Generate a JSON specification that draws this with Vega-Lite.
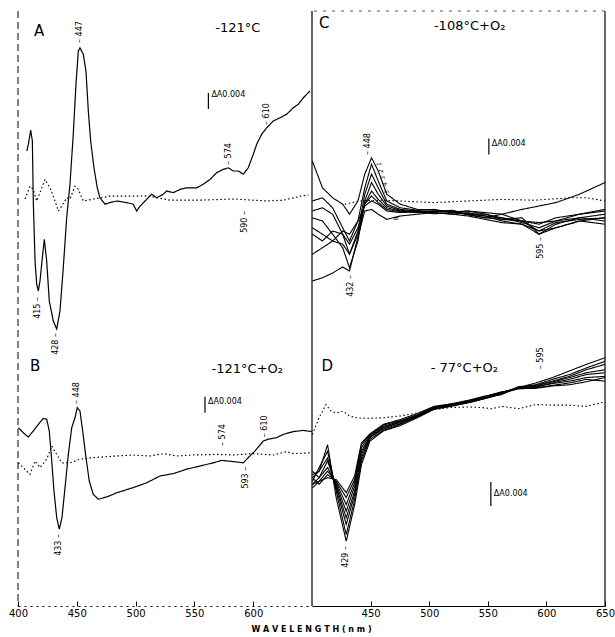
{
  "$schema": "https://vega.github.io/schema/vega-lite/v6.json",
  "padding": {"left": 8, "top": 10, "right": 2, "bottom": 0},
  "background": "white",
  "bounds": "flush",
  "spacing": 0,
  "columns": 2,
  "title": {"text": "W A V E L E N G T H   ( n m )", "orient": "bottom", "anchor": "middle", "fontSize": 8, "font": "DejaVu Sans", "fontWeight": "bold", "offset": 8, "color": "black"},
  "config": {"view": {"stroke": null}, "text": {"font": "DejaVu Sans", "color": "black"}},
  "datasets": {
    "curves": [
      {"p":"A","s":"As","t":"solid","nm":407.5,"v":12},{"p":"A","s":"As","t":"solid","nm":408.8,"v":13.7},{"p":"A","s":"As","t":"solid","nm":410.8,"v":17.2},{"p":"A","s":"As","t":"solid","nm":412.2,"v":14.5},{"p":"A","s":"As","t":"solid","nm":413,"v":-0.5},{"p":"A","s":"As","t":"solid","nm":414.5,"v":-15.5},{"p":"A","s":"As","t":"solid","nm":415.9,"v":-21.3},{"p":"A","s":"As","t":"solid","nm":417.3,"v":-23},{"p":"A","s":"As","t":"solid","nm":418.7,"v":-20.5},{"p":"A","s":"As","t":"solid","nm":421,"v":-13.8},{"p":"A","s":"As","t":"solid","nm":422.4,"v":-10.1},{"p":"A","s":"As","t":"solid","nm":424.4,"v":-15.5},{"p":"A","s":"As","t":"solid","nm":426.6,"v":-25.5},{"p":"A","s":"As","t":"solid","nm":430,"v":-30.5},{"p":"A","s":"As","t":"solid","nm":432.9,"v":-32.5},{"p":"A","s":"As","t":"solid","nm":435.7,"v":-28},{"p":"A","s":"As","t":"solid","nm":438.5,"v":-17.2},{"p":"A","s":"As","t":"solid","nm":441.4,"v":-4.7},{"p":"A","s":"As","t":"solid","nm":444.2,"v":3.7},{"p":"A","s":"As","t":"solid","nm":447,"v":16.2},{"p":"A","s":"As","t":"solid","nm":449.3,"v":28.7},{"p":"A","s":"As","t":"solid","nm":451.3,"v":37},{"p":"A","s":"As","t":"solid","nm":452.7,"v":37.8},{"p":"A","s":"As","t":"solid","nm":455.5,"v":36.2},{"p":"A","s":"As","t":"solid","nm":457.8,"v":32},{"p":"A","s":"As","t":"solid","nm":459.8,"v":22},{"p":"A","s":"As","t":"solid","nm":461.8,"v":14.5},{"p":"A","s":"As","t":"solid","nm":464.6,"v":7.8},{"p":"A","s":"As","t":"solid","nm":467.4,"v":2.8},{"p":"A","s":"As","t":"solid","nm":469.7,"v":0.3},{"p":"A","s":"As","t":"solid","nm":474,"v":-1.3},{"p":"A","s":"As","t":"solid","nm":478.2,"v":-0.9},{"p":"A","s":"As","t":"solid","nm":483.9,"v":-0.5},{"p":"A","s":"As","t":"solid","nm":492.4,"v":-0.9},{"p":"A","s":"As","t":"solid","nm":498,"v":-1.3},{"p":"A","s":"As","t":"solid","nm":500.9,"v":-3},{"p":"A","s":"As","t":"solid","nm":503.7,"v":-1.8},{"p":"A","s":"As","t":"solid","nm":509.4,"v":-0.1},{"p":"A","s":"As","t":"solid","nm":513.7,"v":1.2},{"p":"A","s":"As","t":"solid","nm":517.9,"v":0.3},{"p":"A","s":"As","t":"solid","nm":523.6,"v":1.2},{"p":"A","s":"As","t":"solid","nm":526.4,"v":2},{"p":"A","s":"As","t":"solid","nm":532.1,"v":1.6},{"p":"A","s":"As","t":"solid","nm":537.8,"v":2.4},{"p":"A","s":"As","t":"solid","nm":543.4,"v":2.8},{"p":"A","s":"As","t":"solid","nm":551.9,"v":2.8},{"p":"A","s":"As","t":"solid","nm":557.6,"v":3.7},{"p":"A","s":"As","t":"solid","nm":563.3,"v":4.9},{"p":"A","s":"As","t":"solid","nm":569,"v":6.6},{"p":"A","s":"As","t":"solid","nm":574.6,"v":7.4},{"p":"A","s":"As","t":"solid","nm":578.9,"v":7.8},{"p":"A","s":"As","t":"solid","nm":583.1,"v":7},{"p":"A","s":"As","t":"solid","nm":587.3,"v":7},{"p":"A","s":"As","t":"solid","nm":591.6,"v":6.2},{"p":"A","s":"As","t":"solid","nm":595.8,"v":7.8},{"p":"A","s":"As","t":"solid","nm":600.1,"v":11.2},{"p":"A","s":"As","t":"solid","nm":603,"v":13.7},{"p":"A","s":"As","t":"solid","nm":607.2,"v":16.2},{"p":"A","s":"As","t":"solid","nm":611.5,"v":17.8},{"p":"A","s":"As","t":"solid","nm":617.1,"v":19.5},{"p":"A","s":"As","t":"solid","nm":622.8,"v":20.3},{"p":"A","s":"As","t":"solid","nm":628.5,"v":21.2},{"p":"A","s":"As","t":"solid","nm":634.1,"v":22.8},{"p":"A","s":"As","t":"solid","nm":638.4,"v":23.7},{"p":"A","s":"As","t":"solid","nm":642.6,"v":25.3},{"p":"A","s":"As","t":"solid","nm":648.3,"v":27},
      {"p":"A","s":"Ad","t":"dotted","nm":406,"v":0},{"p":"A","s":"Ad","t":"dotted","nm":410.2,"v":3.2},{"p":"A","s":"Ad","t":"dotted","nm":413,"v":2.4},{"p":"A","s":"Ad","t":"dotted","nm":415.9,"v":-0.5},{"p":"A","s":"Ad","t":"dotted","nm":418.7,"v":1.6},{"p":"A","s":"Ad","t":"dotted","nm":423,"v":4.9},{"p":"A","s":"Ad","t":"dotted","nm":427.2,"v":2.8},{"p":"A","s":"Ad","t":"dotted","nm":431.5,"v":-0.5},{"p":"A","s":"Ad","t":"dotted","nm":434.3,"v":-3},{"p":"A","s":"Ad","t":"dotted","nm":437.1,"v":-1.8},{"p":"A","s":"Ad","t":"dotted","nm":441.4,"v":0.3},{"p":"A","s":"Ad","t":"dotted","nm":444.2,"v":0},{"p":"A","s":"Ad","t":"dotted","nm":448.5,"v":3.2},{"p":"A","s":"Ad","t":"dotted","nm":451.3,"v":2.4},{"p":"A","s":"Ad","t":"dotted","nm":455.5,"v":-0.5},{"p":"A","s":"Ad","t":"dotted","nm":464,"v":0},{"p":"A","s":"Ad","t":"dotted","nm":478.2,"v":0.7},{"p":"A","s":"Ad","t":"dotted","nm":498,"v":0.7},{"p":"A","s":"Ad","t":"dotted","nm":509.4,"v":0.8},{"p":"A","s":"Ad","t":"dotted","nm":529.3,"v":-0.3},{"p":"A","s":"Ad","t":"dotted","nm":554.2,"v":-0.3},{"p":"A","s":"Ad","t":"dotted","nm":583.1,"v":0},{"p":"A","s":"Ad","t":"dotted","nm":611.5,"v":-0.5},{"p":"A","s":"Ad","t":"dotted","nm":625.7,"v":-0.3},{"p":"A","s":"Ad","t":"dotted","nm":639.9,"v":0.7},{"p":"A","s":"Ad","t":"dotted","nm":646.9,"v":1},
      {"p":"B","s":"Bs","t":"solid","nm":400.3,"v":7.6},{"p":"B","s":"Bs","t":"solid","nm":404.5,"v":6.3},{"p":"B","s":"Bs","t":"solid","nm":408.8,"v":5.25},{"p":"B","s":"Bs","t":"solid","nm":413,"v":6.75},{"p":"B","s":"Bs","t":"solid","nm":417.3,"v":8.4},{"p":"B","s":"Bs","t":"solid","nm":421.5,"v":9.9},{"p":"B","s":"Bs","t":"solid","nm":424.4,"v":9.7},{"p":"B","s":"Bs","t":"solid","nm":426.6,"v":6.75},{"p":"B","s":"Bs","t":"solid","nm":428.7,"v":-0.75},{"p":"B","s":"Bs","t":"solid","nm":430.6,"v":-8.25},{"p":"B","s":"Bs","t":"solid","nm":432.9,"v":-14.9},{"p":"B","s":"Bs","t":"solid","nm":435.1,"v":-17.8},{"p":"B","s":"Bs","t":"solid","nm":437.4,"v":-14.9},{"p":"B","s":"Bs","t":"solid","nm":440,"v":-7.4},{"p":"B","s":"Bs","t":"solid","nm":442.8,"v":0.9},{"p":"B","s":"Bs","t":"solid","nm":445.7,"v":7.6},{"p":"B","s":"Bs","t":"solid","nm":448.5,"v":10.1},{"p":"B","s":"Bs","t":"solid","nm":450.4,"v":12.6},{"p":"B","s":"Bs","t":"solid","nm":452.7,"v":11.75},{"p":"B","s":"Bs","t":"solid","nm":455,"v":6.75},{"p":"B","s":"Bs","t":"solid","nm":457.8,"v":0.1},{"p":"B","s":"Bs","t":"solid","nm":460.6,"v":-5.75},{"p":"B","s":"Bs","t":"solid","nm":464,"v":-9.1},{"p":"B","s":"Bs","t":"solid","nm":468.3,"v":-10.3},{"p":"B","s":"Bs","t":"solid","nm":475.4,"v":-9.75},{"p":"B","s":"Bs","t":"solid","nm":483.9,"v":-8.7},{"p":"B","s":"Bs","t":"solid","nm":498,"v":-7.4},{"p":"B","s":"Bs","t":"solid","nm":509.4,"v":-6.2},{"p":"B","s":"Bs","t":"solid","nm":520.7,"v":-4.5},{"p":"B","s":"Bs","t":"solid","nm":532.1,"v":-3.9},{"p":"B","s":"Bs","t":"solid","nm":543.4,"v":-2.8},{"p":"B","s":"Bs","t":"solid","nm":554.8,"v":-2},{"p":"B","s":"Bs","t":"solid","nm":566.1,"v":-1.2},{"p":"B","s":"Bs","t":"solid","nm":573.2,"v":-0.6},{"p":"B","s":"Bs","t":"solid","nm":583.1,"v":-0.9},{"p":"B","s":"Bs","t":"solid","nm":591.6,"v":-1.2},{"p":"B","s":"Bs","t":"solid","nm":595.8,"v":0.1},{"p":"B","s":"Bs","t":"solid","nm":601.5,"v":1.75},{"p":"B","s":"Bs","t":"solid","nm":608.6,"v":4.25},{"p":"B","s":"Bs","t":"solid","nm":612.8,"v":4.7},{"p":"B","s":"Bs","t":"solid","nm":619.9,"v":5.1},{"p":"B","s":"Bs","t":"solid","nm":625.6,"v":5.9},{"p":"B","s":"Bs","t":"solid","nm":634.1,"v":6.6},{"p":"B","s":"Bs","t":"solid","nm":642.6,"v":6.9},{"p":"B","s":"Bs","t":"solid","nm":649.7,"v":6.6},
      {"p":"B","s":"Bd","t":"dotted","nm":400.3,"v":-1.2},{"p":"B","s":"Bd","t":"dotted","nm":404.5,"v":-2.4},{"p":"B","s":"Bd","t":"dotted","nm":410.2,"v":-4.1},{"p":"B","s":"Bd","t":"dotted","nm":414.5,"v":-0.75},{"p":"B","s":"Bd","t":"dotted","nm":418.7,"v":-2.4},{"p":"B","s":"Bd","t":"dotted","nm":424.4,"v":-0.3},{"p":"B","s":"Bd","t":"dotted","nm":428.7,"v":3},{"p":"B","s":"Bd","t":"dotted","nm":432.9,"v":0.9},{"p":"B","s":"Bd","t":"dotted","nm":437.1,"v":-1.2},{"p":"B","s":"Bd","t":"dotted","nm":444.2,"v":-1.2},{"p":"B","s":"Bd","t":"dotted","nm":452.7,"v":-0.3},{"p":"B","s":"Bd","t":"dotted","nm":464,"v":0.1},{"p":"B","s":"Bd","t":"dotted","nm":483.9,"v":0.5},{"p":"B","s":"Bd","t":"dotted","nm":498,"v":0.75},{"p":"B","s":"Bd","t":"dotted","nm":512.3,"v":0.5},{"p":"B","s":"Bd","t":"dotted","nm":523.6,"v":1.1},{"p":"B","s":"Bd","t":"dotted","nm":535,"v":0.5},{"p":"B","s":"Bd","t":"dotted","nm":549.1,"v":0.75},{"p":"B","s":"Bd","t":"dotted","nm":569,"v":0.9},{"p":"B","s":"Bd","t":"dotted","nm":583.1,"v":0.75},{"p":"B","s":"Bd","t":"dotted","nm":600.1,"v":1.1},{"p":"B","s":"Bd","t":"dotted","nm":617.1,"v":0.75},{"p":"B","s":"Bd","t":"dotted","nm":628.5,"v":1.6},{"p":"B","s":"Bd","t":"dotted","nm":634.1,"v":1.1},{"p":"B","s":"Bd","t":"dotted","nm":649.7,"v":1.3},
      {"p":"C","s":"C1","t":"solid","nm":400.3,"v":10},{"p":"C","s":"C1","t":"solid","nm":408.9,"v":3.3},{"p":"C","s":"C1","t":"solid","nm":417.6,"v":0.8},{"p":"C","s":"C1","t":"solid","nm":426.2,"v":-0.8},{"p":"C","s":"C1","t":"solid","nm":432,"v":-3.3},{"p":"C","s":"C1","t":"solid","nm":439.2,"v":0},{"p":"C","s":"C1","t":"solid","nm":445,"v":6.7},{"p":"C","s":"C1","t":"solid","nm":450.8,"v":10.8},{"p":"C","s":"C1","t":"solid","nm":456.5,"v":7.5},{"p":"C","s":"C1","t":"solid","nm":463.8,"v":1.7},{"p":"C","s":"C1","t":"solid","nm":475.3,"v":-0.8},{"p":"C","s":"C1","t":"solid","nm":490,"v":-2.1},{"p":"C","s":"C1","t":"solid","nm":504.2,"v":-2.3},{"p":"C","s":"C1","t":"solid","nm":520,"v":-2.7},{"p":"C","s":"C1","t":"solid","nm":533.1,"v":-2.5},{"p":"C","s":"C1","t":"solid","nm":548,"v":-2.9},{"p":"C","s":"C1","t":"solid","nm":561.9,"v":-3.3},{"p":"C","s":"C1","t":"solid","nm":579.2,"v":-2.1},{"p":"C","s":"C1","t":"solid","nm":593.7,"v":-1.25},{"p":"C","s":"C1","t":"solid","nm":608.1,"v":-0.4},{"p":"C","s":"C1","t":"solid","nm":628.3,"v":1.7},{"p":"C","s":"C1","t":"solid","nm":649.9,"v":4.6},
      {"p":"C","s":"C2","t":"solid","nm":400.3,"v":0},{"p":"C","s":"C2","t":"solid","nm":408.9,"v":0.8},{"p":"C","s":"C2","t":"solid","nm":417.6,"v":-1.7},{"p":"C","s":"C2","t":"solid","nm":426.2,"v":-6.7},{"p":"C","s":"C2","t":"solid","nm":432,"v":-10},{"p":"C","s":"C2","t":"solid","nm":439.2,"v":-5},{"p":"C","s":"C2","t":"solid","nm":445,"v":3.3},{"p":"C","s":"C2","t":"solid","nm":450.8,"v":9.2},{"p":"C","s":"C2","t":"solid","nm":456.5,"v":5},{"p":"C","s":"C2","t":"solid","nm":463.8,"v":0},{"p":"C","s":"C2","t":"solid","nm":475.3,"v":-1.7},{"p":"C","s":"C2","t":"solid","nm":490,"v":-2.3},{"p":"C","s":"C2","t":"solid","nm":504.2,"v":-2.1},{"p":"C","s":"C2","t":"solid","nm":520,"v":-2.9},{"p":"C","s":"C2","t":"solid","nm":533.1,"v":-2.5},{"p":"C","s":"C2","t":"solid","nm":548,"v":-3.3},{"p":"C","s":"C2","t":"solid","nm":561.9,"v":-4.2},{"p":"C","s":"C2","t":"solid","nm":579.2,"v":-5.4},{"p":"C","s":"C2","t":"solid","nm":593.7,"v":-6.7},{"p":"C","s":"C2","t":"solid","nm":608.1,"v":-5},{"p":"C","s":"C2","t":"solid","nm":628.3,"v":-3.3},{"p":"C","s":"C2","t":"solid","nm":649.9,"v":-2.1},
      {"p":"C","s":"C3","t":"solid","nm":400.3,"v":-2.5},{"p":"C","s":"C3","t":"solid","nm":408.9,"v":-1.7},{"p":"C","s":"C3","t":"solid","nm":417.6,"v":-3.3},{"p":"C","s":"C3","t":"solid","nm":426.2,"v":-8.3},{"p":"C","s":"C3","t":"solid","nm":432,"v":-13.3},{"p":"C","s":"C3","t":"solid","nm":439.2,"v":-7.5},{"p":"C","s":"C3","t":"solid","nm":445,"v":1.7},{"p":"C","s":"C3","t":"solid","nm":450.8,"v":6.7},{"p":"C","s":"C3","t":"solid","nm":456.5,"v":3.3},{"p":"C","s":"C3","t":"solid","nm":463.8,"v":-0.8},{"p":"C","s":"C3","t":"solid","nm":475.3,"v":-2.1},{"p":"C","s":"C3","t":"solid","nm":490,"v":-2.5},{"p":"C","s":"C3","t":"solid","nm":504.2,"v":-2.7},{"p":"C","s":"C3","t":"solid","nm":520,"v":-2.3},{"p":"C","s":"C3","t":"solid","nm":533.1,"v":-3.3},{"p":"C","s":"C3","t":"solid","nm":548,"v":-3.75},{"p":"C","s":"C3","t":"solid","nm":561.9,"v":-4.2},{"p":"C","s":"C3","t":"solid","nm":579.2,"v":-5},{"p":"C","s":"C3","t":"solid","nm":593.7,"v":-7.5},{"p":"C","s":"C3","t":"solid","nm":608.1,"v":-6.7},{"p":"C","s":"C3","t":"solid","nm":628.3,"v":-5},{"p":"C","s":"C3","t":"solid","nm":649.9,"v":-4.2},
      {"p":"C","s":"C4","t":"solid","nm":400.3,"v":-4.2},{"p":"C","s":"C4","t":"solid","nm":408.9,"v":-5},{"p":"C","s":"C4","t":"solid","nm":417.6,"v":-8.3},{"p":"C","s":"C4","t":"solid","nm":426.2,"v":-11.7},{"p":"C","s":"C4","t":"solid","nm":432,"v":-16.7},{"p":"C","s":"C4","t":"solid","nm":439.2,"v":-10},{"p":"C","s":"C4","t":"solid","nm":445,"v":0},{"p":"C","s":"C4","t":"solid","nm":450.8,"v":4.6},{"p":"C","s":"C4","t":"solid","nm":456.5,"v":1.7},{"p":"C","s":"C4","t":"solid","nm":463.8,"v":-1.25},{"p":"C","s":"C4","t":"solid","nm":475.3,"v":-2.3},{"p":"C","s":"C4","t":"solid","nm":490,"v":-2.7},{"p":"C","s":"C4","t":"solid","nm":504.2,"v":-2.5},{"p":"C","s":"C4","t":"solid","nm":520,"v":-2.9},{"p":"C","s":"C4","t":"solid","nm":533.1,"v":-3.2},{"p":"C","s":"C4","t":"solid","nm":548,"v":-3.3},{"p":"C","s":"C4","t":"solid","nm":561.9,"v":-4.6},{"p":"C","s":"C4","t":"solid","nm":579.2,"v":-4.2},{"p":"C","s":"C4","t":"solid","nm":593.7,"v":-8.3},{"p":"C","s":"C4","t":"solid","nm":608.1,"v":-5.8},{"p":"C","s":"C4","t":"solid","nm":628.3,"v":-4.2},{"p":"C","s":"C4","t":"solid","nm":649.9,"v":-3.3},
      {"p":"C","s":"C5","t":"solid","nm":400.3,"v":-6.7},{"p":"C","s":"C5","t":"solid","nm":408.9,"v":-8.3},{"p":"C","s":"C5","t":"solid","nm":417.6,"v":-10},{"p":"C","s":"C5","t":"solid","nm":426.2,"v":-10.8},{"p":"C","s":"C5","t":"solid","nm":432,"v":-13.3},{"p":"C","s":"C5","t":"solid","nm":439.2,"v":-8.3},{"p":"C","s":"C5","t":"solid","nm":445,"v":-0.8},{"p":"C","s":"C5","t":"solid","nm":450.8,"v":2.5},{"p":"C","s":"C5","t":"solid","nm":456.5,"v":0.4},{"p":"C","s":"C5","t":"solid","nm":463.8,"v":-1.7},{"p":"C","s":"C5","t":"solid","nm":475.3,"v":-2.5},{"p":"C","s":"C5","t":"solid","nm":490,"v":-2.9},{"p":"C","s":"C5","t":"solid","nm":504.2,"v":-2.7},{"p":"C","s":"C5","t":"solid","nm":520,"v":-2.5},{"p":"C","s":"C5","t":"solid","nm":533.1,"v":-3.5},{"p":"C","s":"C5","t":"solid","nm":548,"v":-4.2},{"p":"C","s":"C5","t":"solid","nm":561.9,"v":-3.3},{"p":"C","s":"C5","t":"solid","nm":579.2,"v":-5},{"p":"C","s":"C5","t":"solid","nm":593.7,"v":-5.8},{"p":"C","s":"C5","t":"solid","nm":608.1,"v":-4.2},{"p":"C","s":"C5","t":"solid","nm":628.3,"v":-3.3},{"p":"C","s":"C5","t":"solid","nm":649.9,"v":-2.5},
      {"p":"C","s":"C6","t":"solid","nm":400.3,"v":-8.3},{"p":"C","s":"C6","t":"solid","nm":408.9,"v":-10},{"p":"C","s":"C6","t":"solid","nm":417.6,"v":-7.5},{"p":"C","s":"C6","t":"solid","nm":426.2,"v":-8.3},{"p":"C","s":"C6","t":"solid","nm":432,"v":-10.8},{"p":"C","s":"C6","t":"solid","nm":439.2,"v":-6.7},{"p":"C","s":"C6","t":"solid","nm":445,"v":-0.8},{"p":"C","s":"C6","t":"solid","nm":450.8,"v":1.25},{"p":"C","s":"C6","t":"solid","nm":456.5,"v":-0.4},{"p":"C","s":"C6","t":"solid","nm":463.8,"v":-2.1},{"p":"C","s":"C6","t":"solid","nm":475.3,"v":-2.7},{"p":"C","s":"C6","t":"solid","nm":490,"v":-2.5},{"p":"C","s":"C6","t":"solid","nm":504.2,"v":-2.9},{"p":"C","s":"C6","t":"solid","nm":520,"v":-3.3},{"p":"C","s":"C6","t":"solid","nm":533.1,"v":-2.9},{"p":"C","s":"C6","t":"solid","nm":548,"v":-3.75},{"p":"C","s":"C6","t":"solid","nm":561.9,"v":-5},{"p":"C","s":"C6","t":"solid","nm":579.2,"v":-5.8},{"p":"C","s":"C6","t":"solid","nm":593.7,"v":-7.5},{"p":"C","s":"C6","t":"solid","nm":608.1,"v":-5.4},{"p":"C","s":"C6","t":"solid","nm":628.3,"v":-4.6},{"p":"C","s":"C6","t":"solid","nm":649.9,"v":-4.2},
      {"p":"C","s":"C7","t":"solid","nm":400.3,"v":-13.3},{"p":"C","s":"C7","t":"solid","nm":408.9,"v":-11.7},{"p":"C","s":"C7","t":"solid","nm":417.6,"v":-10},{"p":"C","s":"C7","t":"solid","nm":426.2,"v":-7.5},{"p":"C","s":"C7","t":"solid","nm":432,"v":-8.3},{"p":"C","s":"C7","t":"solid","nm":439.2,"v":-5},{"p":"C","s":"C7","t":"solid","nm":445,"v":-1.25},{"p":"C","s":"C7","t":"solid","nm":450.8,"v":0},{"p":"C","s":"C7","t":"solid","nm":456.5,"v":-0.8},{"p":"C","s":"C7","t":"solid","nm":463.8,"v":-2.5},{"p":"C","s":"C7","t":"solid","nm":475.3,"v":-2.9},{"p":"C","s":"C7","t":"solid","nm":490,"v":-2.7},{"p":"C","s":"C7","t":"solid","nm":504.2,"v":-3.2},{"p":"C","s":"C7","t":"solid","nm":520,"v":-2.9},{"p":"C","s":"C7","t":"solid","nm":533.1,"v":-3.3},{"p":"C","s":"C7","t":"solid","nm":548,"v":-4.2},{"p":"C","s":"C7","t":"solid","nm":561.9,"v":-4.6},{"p":"C","s":"C7","t":"solid","nm":579.2,"v":-5},{"p":"C","s":"C7","t":"solid","nm":593.7,"v":-5.4},{"p":"C","s":"C7","t":"solid","nm":608.1,"v":-5},{"p":"C","s":"C7","t":"solid","nm":628.3,"v":-4.2},{"p":"C","s":"C7","t":"solid","nm":649.9,"v":-5},
      {"p":"C","s":"C8","t":"solid","nm":400.3,"v":-20},{"p":"C","s":"C8","t":"solid","nm":408.9,"v":-19.2},{"p":"C","s":"C8","t":"solid","nm":417.6,"v":-18},{"p":"C","s":"C8","t":"solid","nm":426.2,"v":-16.5},{"p":"C","s":"C8","t":"solid","nm":432,"v":-17.5},{"p":"C","s":"C8","t":"solid","nm":439.2,"v":-9},{"p":"C","s":"C8","t":"solid","nm":445,"v":-2.5},{"p":"C","s":"C8","t":"solid","nm":450.8,"v":-2.1},{"p":"C","s":"C8","t":"solid","nm":456.5,"v":-3.3},{"p":"C","s":"C8","t":"solid","nm":463.8,"v":-4.6},{"p":"C","s":"C8","t":"solid","nm":475.3,"v":-3.75},{"p":"C","s":"C8","t":"solid","nm":490,"v":-3.3},{"p":"C","s":"C8","t":"solid","nm":504.2,"v":-2.9},{"p":"C","s":"C8","t":"solid","nm":520,"v":-3.3},{"p":"C","s":"C8","t":"solid","nm":533.1,"v":-3.75},{"p":"C","s":"C8","t":"solid","nm":548,"v":-4.6},{"p":"C","s":"C8","t":"solid","nm":561.9,"v":-5.4},{"p":"C","s":"C8","t":"solid","nm":579.2,"v":-5.8},{"p":"C","s":"C8","t":"solid","nm":593.7,"v":-8.3},{"p":"C","s":"C8","t":"solid","nm":608.1,"v":-6.7},{"p":"C","s":"C8","t":"solid","nm":628.3,"v":-5},{"p":"C","s":"C8","t":"solid","nm":649.9,"v":-5.8},
      {"p":"C","s":"C0","t":"dotted","nm":428,"v":-0.8},{"p":"C","s":"C0","t":"dotted","nm":440,"v":0},{"p":"C","s":"C0","t":"dotted","nm":460,"v":0.2},{"p":"C","s":"C0","t":"dotted","nm":475,"v":0},{"p":"C","s":"C0","t":"dotted","nm":504,"v":-0.4},{"p":"C","s":"C0","t":"dotted","nm":533,"v":0},{"p":"C","s":"C0","t":"dotted","nm":562,"v":0.4},{"p":"C","s":"C0","t":"dotted","nm":590,"v":0.2},{"p":"C","s":"C0","t":"dotted","nm":620,"v":0.8},{"p":"C","s":"C0","t":"dotted","nm":635,"v":0.8},{"p":"C","s":"C0","t":"dotted","nm":650,"v":0},
      {"p":"D","s":"D1","t":"solid","nm":400.3,"v":-11.1},{"p":"D","s":"D1","t":"solid","nm":406.1,"v":-10},{"p":"D","s":"D1","t":"solid","nm":413.3,"v":-5.6},{"p":"D","s":"D1","t":"solid","nm":420.6,"v":-14.4},{"p":"D","s":"D1","t":"solid","nm":429.2,"v":-21.7},{"p":"D","s":"D1","t":"solid","nm":436.4,"v":-15.6},{"p":"D","s":"D1","t":"solid","nm":442.2,"v":-8.9},{"p":"D","s":"D1","t":"solid","nm":449.4,"v":-5},{"p":"D","s":"D1","t":"solid","nm":461,"v":-3.3},{"p":"D","s":"D1","t":"solid","nm":475.3,"v":-2.4},{"p":"D","s":"D1","t":"solid","nm":489.8,"v":-1.1},{"p":"D","s":"D1","t":"solid","nm":504.2,"v":0.3},{"p":"D","s":"D1","t":"solid","nm":518.6,"v":0.8},{"p":"D","s":"D1","t":"solid","nm":533.1,"v":1.4},{"p":"D","s":"D1","t":"solid","nm":547.5,"v":2.1},{"p":"D","s":"D1","t":"solid","nm":561.9,"v":2.8},{"p":"D","s":"D1","t":"solid","nm":576.3,"v":3.9},{"p":"D","s":"D1","t":"solid","nm":590.8,"v":4.7},{"p":"D","s":"D1","t":"solid","nm":605.2,"v":5.6},{"p":"D","s":"D1","t":"solid","nm":619.6,"v":6.7},{"p":"D","s":"D1","t":"solid","nm":634,"v":7.8},{"p":"D","s":"D1","t":"solid","nm":649.9,"v":8.9},
      {"p":"D","s":"D2","t":"solid","nm":400.3,"v":-11.7},{"p":"D","s":"D2","t":"solid","nm":406.1,"v":-9.4},{"p":"D","s":"D2","t":"solid","nm":413.3,"v":-6.7},{"p":"D","s":"D2","t":"solid","nm":420.6,"v":-13.3},{"p":"D","s":"D2","t":"solid","nm":429.2,"v":-20.6},{"p":"D","s":"D2","t":"solid","nm":436.4,"v":-14.7},{"p":"D","s":"D2","t":"solid","nm":442.2,"v":-8.3},{"p":"D","s":"D2","t":"solid","nm":449.4,"v":-4.7},{"p":"D","s":"D2","t":"solid","nm":461,"v":-3.2},{"p":"D","s":"D2","t":"solid","nm":475.3,"v":-2.2},{"p":"D","s":"D2","t":"solid","nm":489.8,"v":-1},{"p":"D","s":"D2","t":"solid","nm":504.2,"v":0.4},{"p":"D","s":"D2","t":"solid","nm":518.6,"v":0.9},{"p":"D","s":"D2","t":"solid","nm":533.1,"v":1.4},{"p":"D","s":"D2","t":"solid","nm":547.5,"v":2.1},{"p":"D","s":"D2","t":"solid","nm":561.9,"v":2.9},{"p":"D","s":"D2","t":"solid","nm":576.3,"v":4},{"p":"D","s":"D2","t":"solid","nm":590.8,"v":4.4},{"p":"D","s":"D2","t":"solid","nm":605.2,"v":5.3},{"p":"D","s":"D2","t":"solid","nm":619.6,"v":6.1},{"p":"D","s":"D2","t":"solid","nm":634,"v":7.2},{"p":"D","s":"D2","t":"solid","nm":649.9,"v":8.3},
      {"p":"D","s":"D3","t":"solid","nm":400.3,"v":-10.6},{"p":"D","s":"D3","t":"solid","nm":406.1,"v":-10},{"p":"D","s":"D3","t":"solid","nm":413.3,"v":-7.8},{"p":"D","s":"D3","t":"solid","nm":420.6,"v":-12.8},{"p":"D","s":"D3","t":"solid","nm":429.2,"v":-18.9},{"p":"D","s":"D3","t":"solid","nm":436.4,"v":-13.9},{"p":"D","s":"D3","t":"solid","nm":442.2,"v":-7.8},{"p":"D","s":"D3","t":"solid","nm":449.4,"v":-4.4},{"p":"D","s":"D3","t":"solid","nm":461,"v":-3},{"p":"D","s":"D3","t":"solid","nm":475.3,"v":-2.1},{"p":"D","s":"D3","t":"solid","nm":489.8,"v":-0.9},{"p":"D","s":"D3","t":"solid","nm":504.2,"v":0.4},{"p":"D","s":"D3","t":"solid","nm":518.6,"v":0.9},{"p":"D","s":"D3","t":"solid","nm":533.1,"v":1.5},{"p":"D","s":"D3","t":"solid","nm":547.5,"v":2.2},{"p":"D","s":"D3","t":"solid","nm":561.9,"v":2.9},{"p":"D","s":"D3","t":"solid","nm":576.3,"v":4.1},{"p":"D","s":"D3","t":"solid","nm":590.8,"v":4.3},{"p":"D","s":"D3","t":"solid","nm":605.2,"v":5},{"p":"D","s":"D3","t":"solid","nm":619.6,"v":5.8},{"p":"D","s":"D3","t":"solid","nm":634,"v":6.9},{"p":"D","s":"D3","t":"solid","nm":649.9,"v":7.8},
      {"p":"D","s":"D4","t":"solid","nm":400.3,"v":-12.2},{"p":"D","s":"D4","t":"solid","nm":406.1,"v":-11.1},{"p":"D","s":"D4","t":"solid","nm":413.3,"v":-8.3},{"p":"D","s":"D4","t":"solid","nm":420.6,"v":-12.5},{"p":"D","s":"D4","t":"solid","nm":429.2,"v":-17.8},{"p":"D","s":"D4","t":"solid","nm":436.4,"v":-13.3},{"p":"D","s":"D4","t":"solid","nm":442.2,"v":-7.2},{"p":"D","s":"D4","t":"solid","nm":449.4,"v":-4.3},{"p":"D","s":"D4","t":"solid","nm":461,"v":-2.8},{"p":"D","s":"D4","t":"solid","nm":475.3,"v":-1.9},{"p":"D","s":"D4","t":"solid","nm":489.8,"v":-0.8},{"p":"D","s":"D4","t":"solid","nm":504.2,"v":0.6},{"p":"D","s":"D4","t":"solid","nm":518.6,"v":1},{"p":"D","s":"D4","t":"solid","nm":533.1,"v":1.6},{"p":"D","s":"D4","t":"solid","nm":547.5,"v":2.3},{"p":"D","s":"D4","t":"solid","nm":561.9,"v":3},{"p":"D","s":"D4","t":"solid","nm":576.3,"v":3.8},{"p":"D","s":"D4","t":"solid","nm":590.8,"v":4.2},{"p":"D","s":"D4","t":"solid","nm":605.2,"v":4.9},{"p":"D","s":"D4","t":"solid","nm":619.6,"v":5.6},{"p":"D","s":"D4","t":"solid","nm":634,"v":6.4},{"p":"D","s":"D4","t":"solid","nm":649.9,"v":6.9},
      {"p":"D","s":"D5","t":"solid","nm":400.3,"v":-10},{"p":"D","s":"D5","t":"solid","nm":406.1,"v":-11.1},{"p":"D","s":"D5","t":"solid","nm":413.3,"v":-9.4},{"p":"D","s":"D5","t":"solid","nm":420.6,"v":-12.2},{"p":"D","s":"D5","t":"solid","nm":429.2,"v":-16.7},{"p":"D","s":"D5","t":"solid","nm":436.4,"v":-12.5},{"p":"D","s":"D5","t":"solid","nm":442.2,"v":-6.7},{"p":"D","s":"D5","t":"solid","nm":449.4,"v":-4.2},{"p":"D","s":"D5","t":"solid","nm":461,"v":-2.7},{"p":"D","s":"D5","t":"solid","nm":475.3,"v":-1.8},{"p":"D","s":"D5","t":"solid","nm":489.8,"v":-0.8},{"p":"D","s":"D5","t":"solid","nm":504.2,"v":0.6},{"p":"D","s":"D5","t":"solid","nm":518.6,"v":1.1},{"p":"D","s":"D5","t":"solid","nm":533.1,"v":1.6},{"p":"D","s":"D5","t":"solid","nm":547.5,"v":2.3},{"p":"D","s":"D5","t":"solid","nm":561.9,"v":3.1},{"p":"D","s":"D5","t":"solid","nm":576.3,"v":3.9},{"p":"D","s":"D5","t":"solid","nm":590.8,"v":4},{"p":"D","s":"D5","t":"solid","nm":605.2,"v":4.7},{"p":"D","s":"D5","t":"solid","nm":619.6,"v":5.3},{"p":"D","s":"D5","t":"solid","nm":634,"v":6.1},{"p":"D","s":"D5","t":"solid","nm":649.9,"v":6.4},
      {"p":"D","s":"D6","t":"solid","nm":400.3,"v":-12.8},{"p":"D","s":"D6","t":"solid","nm":406.1,"v":-11.7},{"p":"D","s":"D6","t":"solid","nm":413.3,"v":-10},{"p":"D","s":"D6","t":"solid","nm":420.6,"v":-11.9},{"p":"D","s":"D6","t":"solid","nm":429.2,"v":-15.6},{"p":"D","s":"D6","t":"solid","nm":436.4,"v":-11.9},{"p":"D","s":"D6","t":"solid","nm":442.2,"v":-6.1},{"p":"D","s":"D6","t":"solid","nm":449.4,"v":-4},{"p":"D","s":"D6","t":"solid","nm":461,"v":-2.5},{"p":"D","s":"D6","t":"solid","nm":475.3,"v":-1.7},{"p":"D","s":"D6","t":"solid","nm":489.8,"v":-0.7},{"p":"D","s":"D6","t":"solid","nm":504.2,"v":0.7},{"p":"D","s":"D6","t":"solid","nm":518.6,"v":1.1},{"p":"D","s":"D6","t":"solid","nm":533.1,"v":1.7},{"p":"D","s":"D6","t":"solid","nm":547.5,"v":2.4},{"p":"D","s":"D6","t":"solid","nm":561.9,"v":3.1},{"p":"D","s":"D6","t":"solid","nm":576.3,"v":3.9},{"p":"D","s":"D6","t":"solid","nm":590.8,"v":4.1},{"p":"D","s":"D6","t":"solid","nm":605.2,"v":4.6},{"p":"D","s":"D6","t":"solid","nm":619.6,"v":5},{"p":"D","s":"D6","t":"solid","nm":634,"v":5.6},{"p":"D","s":"D6","t":"solid","nm":649.9,"v":5.8},
      {"p":"D","s":"D7","t":"solid","nm":400.3,"v":-11.1},{"p":"D","s":"D7","t":"solid","nm":406.1,"v":-12.2},{"p":"D","s":"D7","t":"solid","nm":413.3,"v":-10.6},{"p":"D","s":"D7","t":"solid","nm":420.6,"v":-11.7},{"p":"D","s":"D7","t":"solid","nm":429.2,"v":-14.4},{"p":"D","s":"D7","t":"solid","nm":436.4,"v":-11.4},{"p":"D","s":"D7","t":"solid","nm":442.2,"v":-5.6},{"p":"D","s":"D7","t":"solid","nm":449.4,"v":-3.9},{"p":"D","s":"D7","t":"solid","nm":461,"v":-2.3},{"p":"D","s":"D7","t":"solid","nm":475.3,"v":-1.6},{"p":"D","s":"D7","t":"solid","nm":489.8,"v":-0.6},{"p":"D","s":"D7","t":"solid","nm":504.2,"v":0.7},{"p":"D","s":"D7","t":"solid","nm":518.6,"v":1.2},{"p":"D","s":"D7","t":"solid","nm":533.1,"v":1.7},{"p":"D","s":"D7","t":"solid","nm":547.5,"v":2.4},{"p":"D","s":"D7","t":"solid","nm":561.9,"v":3.2},{"p":"D","s":"D7","t":"solid","nm":576.3,"v":3.7},{"p":"D","s":"D7","t":"solid","nm":590.8,"v":3.9},{"p":"D","s":"D7","t":"solid","nm":605.2,"v":4.3},{"p":"D","s":"D7","t":"solid","nm":619.6,"v":4.7},{"p":"D","s":"D7","t":"solid","nm":634,"v":5.3},{"p":"D","s":"D7","t":"solid","nm":649.9,"v":5},
      {"p":"D","s":"D8","t":"solid","nm":400.3,"v":-12.2},{"p":"D","s":"D8","t":"solid","nm":406.1,"v":-11.7},{"p":"D","s":"D8","t":"solid","nm":413.3,"v":-11.1},{"p":"D","s":"D8","t":"solid","nm":420.6,"v":-11.4},{"p":"D","s":"D8","t":"solid","nm":429.2,"v":-13.6},{"p":"D","s":"D8","t":"solid","nm":436.4,"v":-10.8},{"p":"D","s":"D8","t":"solid","nm":442.2,"v":-5.3},{"p":"D","s":"D8","t":"solid","nm":449.4,"v":-3.8},{"p":"D","s":"D8","t":"solid","nm":461,"v":-2.2},{"p":"D","s":"D8","t":"solid","nm":475.3,"v":-1.4},{"p":"D","s":"D8","t":"solid","nm":489.8,"v":-0.4},{"p":"D","s":"D8","t":"solid","nm":504.2,"v":0.8},{"p":"D","s":"D8","t":"solid","nm":518.6,"v":1.2},{"p":"D","s":"D8","t":"solid","nm":533.1,"v":1.8},{"p":"D","s":"D8","t":"solid","nm":547.5,"v":2.5},{"p":"D","s":"D8","t":"solid","nm":561.9,"v":3.2},{"p":"D","s":"D8","t":"solid","nm":576.3,"v":3.8},{"p":"D","s":"D8","t":"solid","nm":590.8,"v":3.8},{"p":"D","s":"D8","t":"solid","nm":605.2,"v":4.2},{"p":"D","s":"D8","t":"solid","nm":619.6,"v":4.4},{"p":"D","s":"D8","t":"solid","nm":634,"v":4.9},{"p":"D","s":"D8","t":"solid","nm":649.9,"v":5.6},
      {"p":"D","s":"D0","t":"dotted","nm":400.3,"v":-3.9},{"p":"D","s":"D0","t":"dotted","nm":406.1,"v":-1.1},{"p":"D","s":"D0","t":"dotted","nm":411.9,"v":1.1},{"p":"D","s":"D0","t":"dotted","nm":416.2,"v":0},{"p":"D","s":"D0","t":"dotted","nm":420.6,"v":-0.3},{"p":"D","s":"D0","t":"dotted","nm":426.3,"v":0},{"p":"D","s":"D0","t":"dotted","nm":432.1,"v":-0.8},{"p":"D","s":"D0","t":"dotted","nm":437.8,"v":-1.1},{"p":"D","s":"D0","t":"dotted","nm":446.5,"v":-1.2},{"p":"D","s":"D0","t":"dotted","nm":461,"v":-1.1},{"p":"D","s":"D0","t":"dotted","nm":475.3,"v":-0.8},{"p":"D","s":"D0","t":"dotted","nm":489.8,"v":-0.3},{"p":"D","s":"D0","t":"dotted","nm":504.2,"v":0.3},{"p":"D","s":"D0","t":"dotted","nm":518.6,"v":0.6},{"p":"D","s":"D0","t":"dotted","nm":533.1,"v":0.7},{"p":"D","s":"D0","t":"dotted","nm":544.7,"v":0.6},{"p":"D","s":"D0","t":"dotted","nm":553.3,"v":0.4},{"p":"D","s":"D0","t":"dotted","nm":561.9,"v":0.8},{"p":"D","s":"D0","t":"dotted","nm":576.3,"v":0.4},{"p":"D","s":"D0","t":"dotted","nm":590.8,"v":1.1},{"p":"D","s":"D0","t":"dotted","nm":605.2,"v":1},{"p":"D","s":"D0","t":"dotted","nm":619.6,"v":1},{"p":"D","s":"D0","t":"dotted","nm":634,"v":0.8},{"p":"D","s":"D0","t":"dotted","nm":649.9,"v":1.55}
    ],
    "labels": [
      {"p":"A","pos":"up","nm":452.7,"v":39,"text":"– 447"},
      {"p":"A","pos":"down","nm":417.3,"v":-24.5,"text":"415 –"},
      {"p":"A","pos":"down","nm":432.5,"v":-33.5,"text":"428 –"},
      {"p":"A","pos":"up","nm":579,"v":8.5,"text":"– 574"},
      {"p":"A","pos":"up","nm":611.5,"v":18.5,"text":"– 610"},
      {"p":"A","pos":"down","nm":593,"v":-3,"text":"590 –"},
      {"p":"B","pos":"up","nm":450.4,"v":13.5,"text":"– 448"},
      {"p":"B","pos":"down","nm":435,"v":-19,"text":"433 –"},
      {"p":"B","pos":"up","nm":574.6,"v":3,"text":"– 574"},
      {"p":"B","pos":"up","nm":610.4,"v":5.2,"text":"– 610"},
      {"p":"B","pos":"down","nm":594,"v":-2.2,"text":"593 –"},
      {"p":"C","pos":"up","nm":448,"v":11.5,"text":"– 448"},
      {"p":"C","pos":"down","nm":433,"v":-18.5,"text":"432 –"},
      {"p":"C","pos":"down","nm":595,"v":-9,"text":"595 –"},
      {"p":"C","pos":"num","nm":457.4,"v":9.2,"text":"1"},
      {"p":"C","pos":"num","nm":459.1,"v":7.5,"text":"2"},
      {"p":"C","pos":"num","nm":460.8,"v":5.8,"text":"3"},
      {"p":"C","pos":"num","nm":462.6,"v":4.2,"text":"4"},
      {"p":"C","pos":"num","nm":464.3,"v":2.3,"text":"5"},
      {"p":"C","pos":"num","nm":471.5,"v":-4.4,"text":"8"},
      {"p":"D","pos":"down","nm":429.2,"v":-22.5,"text":"429 –"},
      {"p":"D","pos":"up","nm":595,"v":7,"text":"– 595"}
    ],
    "titles": [
      {"p":"A","kind":"panel","nm":418,"v":42,"text":"A"},
      {"p":"A","kind":"cond","nm":587,"v":42.7,"text":"-121°C"},
      {"p":"B","kind":"panel","nm":414.5,"v":23,"text":"B"},
      {"p":"B","kind":"cond","nm":595,"v":22.2,"text":"-121°C+O₂"},
      {"p":"C","kind":"panel","nm":410.4,"v":44.6,"text":"C"},
      {"p":"C","kind":"cond","nm":534.5,"v":43.75,"text":"-108°C+O₂"},
      {"p":"D","kind":"panel","nm":413,"v":7.5,"text":"D"},
      {"p":"D","kind":"cond","nm":530,"v":7.2,"text":"- 77°C+O₂"}
    ],
    "bars": [
      {"p":"A","nm":561.9,"v1":22.5,"v2":26.5,"text":"ΔA0.004"},
      {"p":"B","nm":559,"v1":11.3,"v2":15.3,"text":"ΔA0.004"},
      {"p":"C","nm":550.9,"v1":11.6,"v2":15.6,"text":"ΔA0.004"},
      {"p":"D","nm":552.6,"v1":-15.8,"v2":-11.8,"text":"ΔA0.004"}
    ]
  },
  "concat": [
    {
      "width": 294, "height": 330,
      "layer": [
        {"data": {"name": "bars"}, "transform": [{"filter": "datum.p === 'A'"}], "mark": {"type": "rule", "color": "black", "strokeWidth": 1, "strokeDash": [7, 4]}, "encoding": {"x": {"datum": 400, "type": "quantitative", "scale": {"domain": [400, 650], "nice": false}, "axis": null}}},
        {"data": {"name": "curves"}, "transform": [{"filter": "datum.p === 'A'"}], "mark": {"type": "line", "color": "black", "strokeWidth": 1.2}, "encoding": {"x": {"field": "nm", "type": "quantitative", "scale": {"domain": [400, 650], "nice": false}, "axis": null}, "y": {"field": "v", "type": "quantitative", "scale": {"domain": [-35.5, 47], "nice": false, "zero": false}, "axis": null}, "detail": {"field": "s"}, "strokeDash": {"field": "t", "type": "nominal", "scale": {"domain": ["solid", "dotted"], "range": [[1, 0], [1.5, 2.5]]}, "legend": null}}},
        {"data": {"name": "labels"}, "transform": [{"filter": "datum.p === 'A' && datum.pos === 'up'"}], "mark": {"type": "text", "angle": 270, "align": "left", "baseline": "middle", "fontSize": 8}, "encoding": {"x": {"field": "nm", "type": "quantitative", "scale": {"domain": [400, 650], "nice": false}, "axis": null}, "y": {"field": "v", "type": "quantitative", "scale": {"domain": [-35.5, 47], "nice": false, "zero": false}, "axis": null}, "text": {"field": "text", "type": "nominal"}}},
        {"data": {"name": "labels"}, "transform": [{"filter": "datum.p === 'A' && datum.pos === 'down'"}], "mark": {"type": "text", "angle": 270, "align": "right", "baseline": "middle", "fontSize": 8}, "encoding": {"x": {"field": "nm", "type": "quantitative", "scale": {"domain": [400, 650], "nice": false}, "axis": null}, "y": {"field": "v", "type": "quantitative", "scale": {"domain": [-35.5, 47], "nice": false, "zero": false}, "axis": null}, "text": {"field": "text", "type": "nominal"}}},
        {"data": {"name": "titles"}, "transform": [{"filter": "datum.p === 'A' && datum.kind === 'panel'"}], "mark": {"type": "text", "align": "center", "baseline": "middle", "fontSize": 15}, "encoding": {"x": {"field": "nm", "type": "quantitative", "scale": {"domain": [400, 650], "nice": false}, "axis": null}, "y": {"field": "v", "type": "quantitative", "scale": {"domain": [-35.5, 47], "nice": false, "zero": false}, "axis": null}, "text": {"field": "text", "type": "nominal"}}},
        {"data": {"name": "titles"}, "transform": [{"filter": "datum.p === 'A' && datum.kind === 'cond'"}], "mark": {"type": "text", "align": "center", "baseline": "middle", "fontSize": 13}, "encoding": {"x": {"field": "nm", "type": "quantitative", "scale": {"domain": [400, 650], "nice": false}, "axis": null}, "y": {"field": "v", "type": "quantitative", "scale": {"domain": [-35.5, 47], "nice": false, "zero": false}, "axis": null}, "text": {"field": "text", "type": "nominal"}}},
        {"data": {"name": "bars"}, "transform": [{"filter": "datum.p === 'A'"}], "mark": {"type": "rule", "color": "black", "strokeWidth": 1.2}, "encoding": {"x": {"field": "nm", "type": "quantitative", "scale": {"domain": [400, 650], "nice": false}, "axis": null}, "y": {"field": "v1", "type": "quantitative", "scale": {"domain": [-35.5, 47], "nice": false, "zero": false}, "axis": null}, "y2": {"field": "v2"}}},
        {"data": {"name": "bars"}, "transform": [{"filter": "datum.p === 'A'"}], "mark": {"type": "text", "align": "left", "baseline": "middle", "fontSize": 8, "dx": 3, "dy": 2}, "encoding": {"x": {"field": "nm", "type": "quantitative", "scale": {"domain": [400, 650], "nice": false}, "axis": null}, "y": {"field": "v2", "type": "quantitative", "scale": {"domain": [-35.5, 47], "nice": false, "zero": false}, "axis": null}, "text": {"field": "text", "type": "nominal"}}}
      ]
    },
    {
      "width": 293, "height": 330,
      "layer": [
        {"data": {"name": "bars"}, "transform": [{"filter": "datum.p === 'C'"}], "mark": {"type": "rule", "color": "black", "strokeWidth": 1.2}, "encoding": {"x": {"datum": 400, "type": "quantitative", "scale": {"domain": [400, 650], "nice": false}, "axis": null}}},
        {"data": {"name": "bars"}, "transform": [{"filter": "datum.p === 'C'"}], "mark": {"type": "rule", "color": "black", "strokeWidth": 1.2}, "encoding": {"x": {"datum": 650, "type": "quantitative", "scale": {"domain": [400, 650], "nice": false}, "axis": null}}},
        {"data": {"name": "bars"}, "transform": [{"filter": "datum.p === 'C'"}], "mark": {"type": "rule", "color": "#555555", "strokeWidth": 1, "strokeDash": [3, 6]}, "encoding": {"y": {"datum": 47.5, "type": "quantitative", "scale": {"domain": [-35, 47.5], "nice": false, "zero": false}, "axis": null}}},
        {"data": {"name": "curves"}, "transform": [{"filter": "datum.p === 'C'"}], "mark": {"type": "line", "color": "black", "strokeWidth": 1.1}, "encoding": {"x": {"field": "nm", "type": "quantitative", "scale": {"domain": [400, 650], "nice": false}, "axis": null}, "y": {"field": "v", "type": "quantitative", "scale": {"domain": [-35, 47.5], "nice": false, "zero": false}, "axis": null}, "detail": {"field": "s"}, "strokeDash": {"field": "t", "type": "nominal", "scale": {"domain": ["solid", "dotted"], "range": [[1, 0], [1.5, 2.5]]}, "legend": null}}},
        {"data": {"name": "labels"}, "transform": [{"filter": "datum.p === 'C' && datum.pos === 'up'"}], "mark": {"type": "text", "angle": 270, "align": "left", "baseline": "middle", "fontSize": 8}, "encoding": {"x": {"field": "nm", "type": "quantitative", "scale": {"domain": [400, 650], "nice": false}, "axis": null}, "y": {"field": "v", "type": "quantitative", "scale": {"domain": [-35, 47.5], "nice": false, "zero": false}, "axis": null}, "text": {"field": "text", "type": "nominal"}}},
        {"data": {"name": "labels"}, "transform": [{"filter": "datum.p === 'C' && datum.pos === 'down'"}], "mark": {"type": "text", "angle": 270, "align": "right", "baseline": "middle", "fontSize": 8}, "encoding": {"x": {"field": "nm", "type": "quantitative", "scale": {"domain": [400, 650], "nice": false}, "axis": null}, "y": {"field": "v", "type": "quantitative", "scale": {"domain": [-35, 47.5], "nice": false, "zero": false}, "axis": null}, "text": {"field": "text", "type": "nominal"}}},
        {"data": {"name": "labels"}, "transform": [{"filter": "datum.p === 'C' && datum.pos === 'num'"}], "mark": {"type": "text", "angle": 270, "align": "center", "baseline": "middle", "fontSize": 6}, "encoding": {"x": {"field": "nm", "type": "quantitative", "scale": {"domain": [400, 650], "nice": false}, "axis": null}, "y": {"field": "v", "type": "quantitative", "scale": {"domain": [-35, 47.5], "nice": false, "zero": false}, "axis": null}, "text": {"field": "text", "type": "nominal"}}},
        {"data": {"name": "titles"}, "transform": [{"filter": "datum.p === 'C' && datum.kind === 'panel'"}], "mark": {"type": "text", "align": "center", "baseline": "middle", "fontSize": 15}, "encoding": {"x": {"field": "nm", "type": "quantitative", "scale": {"domain": [400, 650], "nice": false}, "axis": null}, "y": {"field": "v", "type": "quantitative", "scale": {"domain": [-35, 47.5], "nice": false, "zero": false}, "axis": null}, "text": {"field": "text", "type": "nominal"}}},
        {"data": {"name": "titles"}, "transform": [{"filter": "datum.p === 'C' && datum.kind === 'cond'"}], "mark": {"type": "text", "align": "center", "baseline": "middle", "fontSize": 13}, "encoding": {"x": {"field": "nm", "type": "quantitative", "scale": {"domain": [400, 650], "nice": false}, "axis": null}, "y": {"field": "v", "type": "quantitative", "scale": {"domain": [-35, 47.5], "nice": false, "zero": false}, "axis": null}, "text": {"field": "text", "type": "nominal"}}},
        {"data": {"name": "bars"}, "transform": [{"filter": "datum.p === 'C'"}], "mark": {"type": "rule", "color": "black", "strokeWidth": 1.2}, "encoding": {"x": {"field": "nm", "type": "quantitative", "scale": {"domain": [400, 650], "nice": false}, "axis": null}, "y": {"field": "v1", "type": "quantitative", "scale": {"domain": [-35, 47.5], "nice": false, "zero": false}, "axis": null}, "y2": {"field": "v2"}}},
        {"data": {"name": "bars"}, "transform": [{"filter": "datum.p === 'C'"}], "mark": {"type": "text", "align": "left", "baseline": "middle", "fontSize": 8, "dx": 3, "dy": 5}, "encoding": {"x": {"field": "nm", "type": "quantitative", "scale": {"domain": [400, 650], "nice": false}, "axis": null}, "y": {"field": "v2", "type": "quantitative", "scale": {"domain": [-35, 47.5], "nice": false, "zero": false}, "axis": null}, "text": {"field": "text", "type": "nominal"}}}
      ]
    },
    {
      "width": 294, "height": 265,
      "layer": [
        {"data": {"name": "bars"}, "transform": [{"filter": "datum.p === 'B'"}], "mark": {"type": "rule", "color": "black", "strokeWidth": 1, "strokeDash": [7, 4]}, "encoding": {"x": {"datum": 400, "type": "quantitative", "scale": {"domain": [400, 650], "nice": false}, "axis": {"values": [400, 450, 500, 550, 600], "title": null, "grid": false, "tickSize": -5, "labelPadding": 7, "labelFontSize": 10, "labelFont": "DejaVu Sans", "labelColor": "black", "domainColor": "black", "domainDash": [2, 4], "tickColor": "black", "labelFlush": false}}}},
        {"data": {"name": "curves"}, "transform": [{"filter": "datum.p === 'B'"}], "mark": {"type": "line", "color": "black", "strokeWidth": 1.2}, "encoding": {"x": {"field": "nm", "type": "quantitative", "scale": {"domain": [400, 650], "nice": false}, "axis": {"values": [400, 450, 500, 550, 600], "title": null, "grid": false, "tickSize": -5, "labelPadding": 7, "labelFontSize": 10, "labelFont": "DejaVu Sans", "labelColor": "black", "domainColor": "black", "domainDash": [2, 4], "tickColor": "black", "labelFlush": false}}, "y": {"field": "v", "type": "quantitative", "scale": {"domain": [-37, 29.25], "nice": false, "zero": false}, "axis": null}, "detail": {"field": "s"}, "strokeDash": {"field": "t", "type": "nominal", "scale": {"domain": ["solid", "dotted"], "range": [[1, 0], [1.5, 2.5]]}, "legend": null}}},
        {"data": {"name": "labels"}, "transform": [{"filter": "datum.p === 'B' && datum.pos === 'up'"}], "mark": {"type": "text", "angle": 270, "align": "left", "baseline": "middle", "fontSize": 8}, "encoding": {"x": {"field": "nm", "type": "quantitative", "scale": {"domain": [400, 650], "nice": false}, "axis": {"values": [400, 450, 500, 550, 600], "title": null, "grid": false, "tickSize": -5, "labelPadding": 7, "labelFontSize": 10, "labelFont": "DejaVu Sans", "labelColor": "black", "domainColor": "black", "domainDash": [2, 4], "tickColor": "black", "labelFlush": false}}, "y": {"field": "v", "type": "quantitative", "scale": {"domain": [-37, 29.25], "nice": false, "zero": false}, "axis": null}, "text": {"field": "text", "type": "nominal"}}},
        {"data": {"name": "labels"}, "transform": [{"filter": "datum.p === 'B' && datum.pos === 'down'"}], "mark": {"type": "text", "angle": 270, "align": "right", "baseline": "middle", "fontSize": 8}, "encoding": {"x": {"field": "nm", "type": "quantitative", "scale": {"domain": [400, 650], "nice": false}, "axis": {"values": [400, 450, 500, 550, 600], "title": null, "grid": false, "tickSize": -5, "labelPadding": 7, "labelFontSize": 10, "labelFont": "DejaVu Sans", "labelColor": "black", "domainColor": "black", "domainDash": [2, 4], "tickColor": "black", "labelFlush": false}}, "y": {"field": "v", "type": "quantitative", "scale": {"domain": [-37, 29.25], "nice": false, "zero": false}, "axis": null}, "text": {"field": "text", "type": "nominal"}}},
        {"data": {"name": "titles"}, "transform": [{"filter": "datum.p === 'B' && datum.kind === 'panel'"}], "mark": {"type": "text", "align": "center", "baseline": "middle", "fontSize": 15}, "encoding": {"x": {"field": "nm", "type": "quantitative", "scale": {"domain": [400, 650], "nice": false}, "axis": {"values": [400, 450, 500, 550, 600], "title": null, "grid": false, "tickSize": -5, "labelPadding": 7, "labelFontSize": 10, "labelFont": "DejaVu Sans", "labelColor": "black", "domainColor": "black", "domainDash": [2, 4], "tickColor": "black", "labelFlush": false}}, "y": {"field": "v", "type": "quantitative", "scale": {"domain": [-37, 29.25], "nice": false, "zero": false}, "axis": null}, "text": {"field": "text", "type": "nominal"}}},
        {"data": {"name": "titles"}, "transform": [{"filter": "datum.p === 'B' && datum.kind === 'cond'"}], "mark": {"type": "text", "align": "center", "baseline": "middle", "fontSize": 13}, "encoding": {"x": {"field": "nm", "type": "quantitative", "scale": {"domain": [400, 650], "nice": false}, "axis": {"values": [400, 450, 500, 550, 600], "title": null, "grid": false, "tickSize": -5, "labelPadding": 7, "labelFontSize": 10, "labelFont": "DejaVu Sans", "labelColor": "black", "domainColor": "black", "domainDash": [2, 4], "tickColor": "black", "labelFlush": false}}, "y": {"field": "v", "type": "quantitative", "scale": {"domain": [-37, 29.25], "nice": false, "zero": false}, "axis": null}, "text": {"field": "text", "type": "nominal"}}},
        {"data": {"name": "bars"}, "transform": [{"filter": "datum.p === 'B'"}], "mark": {"type": "rule", "color": "black", "strokeWidth": 1.2}, "encoding": {"x": {"field": "nm", "type": "quantitative", "scale": {"domain": [400, 650], "nice": false}, "axis": {"values": [400, 450, 500, 550, 600], "title": null, "grid": false, "tickSize": -5, "labelPadding": 7, "labelFontSize": 10, "labelFont": "DejaVu Sans", "labelColor": "black", "domainColor": "black", "domainDash": [2, 4], "tickColor": "black", "labelFlush": false}}, "y": {"field": "v1", "type": "quantitative", "scale": {"domain": [-37, 29.25], "nice": false, "zero": false}, "axis": null}, "y2": {"field": "v2"}}},
        {"data": {"name": "bars"}, "transform": [{"filter": "datum.p === 'B'"}], "mark": {"type": "text", "align": "left", "baseline": "middle", "fontSize": 8, "dx": 3, "dy": 5}, "encoding": {"x": {"field": "nm", "type": "quantitative", "scale": {"domain": [400, 650], "nice": false}, "axis": {"values": [400, 450, 500, 550, 600], "title": null, "grid": false, "tickSize": -5, "labelPadding": 7, "labelFontSize": 10, "labelFont": "DejaVu Sans", "labelColor": "black", "domainColor": "black", "domainDash": [2, 4], "tickColor": "black", "labelFlush": false}}, "y": {"field": "v2", "type": "quantitative", "scale": {"domain": [-37, 29.25], "nice": false, "zero": false}, "axis": null}, "text": {"field": "text", "type": "nominal"}}}
      ]
    },
    {
      "width": 293, "height": 265,
      "layer": [
        {"data": {"name": "bars"}, "transform": [{"filter": "datum.p === 'D'"}], "mark": {"type": "rule", "color": "black", "strokeWidth": 1.2}, "encoding": {"x": {"datum": 400, "type": "quantitative", "scale": {"domain": [400, 650], "nice": false}, "axis": {"values": [450, 500, 550, 600, 650], "title": null, "grid": false, "tickSize": -5, "labelPadding": 7, "labelFontSize": 10, "labelFont": "DejaVu Sans", "labelColor": "black", "domainColor": "black", "tickColor": "black", "labelFlush": false}}}},
        {"data": {"name": "bars"}, "transform": [{"filter": "datum.p === 'D'"}], "mark": {"type": "rule", "color": "black", "strokeWidth": 1.2}, "encoding": {"x": {"datum": 650, "type": "quantitative", "scale": {"domain": [400, 650], "nice": false}, "axis": {"values": [450, 500, 550, 600, 650], "title": null, "grid": false, "tickSize": -5, "labelPadding": 7, "labelFontSize": 10, "labelFont": "DejaVu Sans", "labelColor": "black", "domainColor": "black", "tickColor": "black", "labelFlush": false}}}},
        {"data": {"name": "curves"}, "transform": [{"filter": "datum.p === 'D'"}], "mark": {"type": "line", "color": "black", "strokeWidth": 1.1}, "encoding": {"x": {"field": "nm", "type": "quantitative", "scale": {"domain": [400, 650], "nice": false}, "axis": {"values": [450, 500, 550, 600, 650], "title": null, "grid": false, "tickSize": -5, "labelPadding": 7, "labelFontSize": 10, "labelFont": "DejaVu Sans", "labelColor": "black", "domainColor": "black", "tickColor": "black", "labelFlush": false}}, "y": {"field": "v", "type": "quantitative", "scale": {"domain": [-32.5, 11.7], "nice": false, "zero": false}, "axis": null}, "detail": {"field": "s"}, "strokeDash": {"field": "t", "type": "nominal", "scale": {"domain": ["solid", "dotted"], "range": [[1, 0], [1.5, 2.5]]}, "legend": null}}},
        {"data": {"name": "labels"}, "transform": [{"filter": "datum.p === 'D' && datum.pos === 'up'"}], "mark": {"type": "text", "angle": 270, "align": "left", "baseline": "middle", "fontSize": 8}, "encoding": {"x": {"field": "nm", "type": "quantitative", "scale": {"domain": [400, 650], "nice": false}, "axis": {"values": [450, 500, 550, 600, 650], "title": null, "grid": false, "tickSize": -5, "labelPadding": 7, "labelFontSize": 10, "labelFont": "DejaVu Sans", "labelColor": "black", "domainColor": "black", "tickColor": "black", "labelFlush": false}}, "y": {"field": "v", "type": "quantitative", "scale": {"domain": [-32.5, 11.7], "nice": false, "zero": false}, "axis": null}, "text": {"field": "text", "type": "nominal"}}},
        {"data": {"name": "labels"}, "transform": [{"filter": "datum.p === 'D' && datum.pos === 'down'"}], "mark": {"type": "text", "angle": 270, "align": "right", "baseline": "middle", "fontSize": 8}, "encoding": {"x": {"field": "nm", "type": "quantitative", "scale": {"domain": [400, 650], "nice": false}, "axis": {"values": [450, 500, 550, 600, 650], "title": null, "grid": false, "tickSize": -5, "labelPadding": 7, "labelFontSize": 10, "labelFont": "DejaVu Sans", "labelColor": "black", "domainColor": "black", "tickColor": "black", "labelFlush": false}}, "y": {"field": "v", "type": "quantitative", "scale": {"domain": [-32.5, 11.7], "nice": false, "zero": false}, "axis": null}, "text": {"field": "text", "type": "nominal"}}},
        {"data": {"name": "titles"}, "transform": [{"filter": "datum.p === 'D' && datum.kind === 'panel'"}], "mark": {"type": "text", "align": "center", "baseline": "middle", "fontSize": 15}, "encoding": {"x": {"field": "nm", "type": "quantitative", "scale": {"domain": [400, 650], "nice": false}, "axis": {"values": [450, 500, 550, 600, 650], "title": null, "grid": false, "tickSize": -5, "labelPadding": 7, "labelFontSize": 10, "labelFont": "DejaVu Sans", "labelColor": "black", "domainColor": "black", "tickColor": "black", "labelFlush": false}}, "y": {"field": "v", "type": "quantitative", "scale": {"domain": [-32.5, 11.7], "nice": false, "zero": false}, "axis": null}, "text": {"field": "text", "type": "nominal"}}},
        {"data": {"name": "titles"}, "transform": [{"filter": "datum.p === 'D' && datum.kind === 'cond'"}], "mark": {"type": "text", "align": "center", "baseline": "middle", "fontSize": 13}, "encoding": {"x": {"field": "nm", "type": "quantitative", "scale": {"domain": [400, 650], "nice": false}, "axis": {"values": [450, 500, 550, 600, 650], "title": null, "grid": false, "tickSize": -5, "labelPadding": 7, "labelFontSize": 10, "labelFont": "DejaVu Sans", "labelColor": "black", "domainColor": "black", "tickColor": "black", "labelFlush": false}}, "y": {"field": "v", "type": "quantitative", "scale": {"domain": [-32.5, 11.7], "nice": false, "zero": false}, "axis": null}, "text": {"field": "text", "type": "nominal"}}},
        {"data": {"name": "bars"}, "transform": [{"filter": "datum.p === 'D'"}], "mark": {"type": "rule", "color": "black", "strokeWidth": 1.2}, "encoding": {"x": {"field": "nm", "type": "quantitative", "scale": {"domain": [400, 650], "nice": false}, "axis": {"values": [450, 500, 550, 600, 650], "title": null, "grid": false, "tickSize": -5, "labelPadding": 7, "labelFontSize": 10, "labelFont": "DejaVu Sans", "labelColor": "black", "domainColor": "black", "tickColor": "black", "labelFlush": false}}, "y": {"field": "v1", "type": "quantitative", "scale": {"domain": [-32.5, 11.7], "nice": false, "zero": false}, "axis": null}, "y2": {"field": "v2"}}},
        {"data": {"name": "bars"}, "transform": [{"filter": "datum.p === 'D'"}], "mark": {"type": "text", "align": "left", "baseline": "middle", "fontSize": 8, "dx": 3, "dy": 12}, "encoding": {"x": {"field": "nm", "type": "quantitative", "scale": {"domain": [400, 650], "nice": false}, "axis": {"values": [450, 500, 550, 600, 650], "title": null, "grid": false, "tickSize": -5, "labelPadding": 7, "labelFontSize": 10, "labelFont": "DejaVu Sans", "labelColor": "black", "domainColor": "black", "tickColor": "black", "labelFlush": false}}, "y": {"field": "v2", "type": "quantitative", "scale": {"domain": [-32.5, 11.7], "nice": false, "zero": false}, "axis": null}, "text": {"field": "text", "type": "nominal"}}}
      ]
    }
  ]
}
